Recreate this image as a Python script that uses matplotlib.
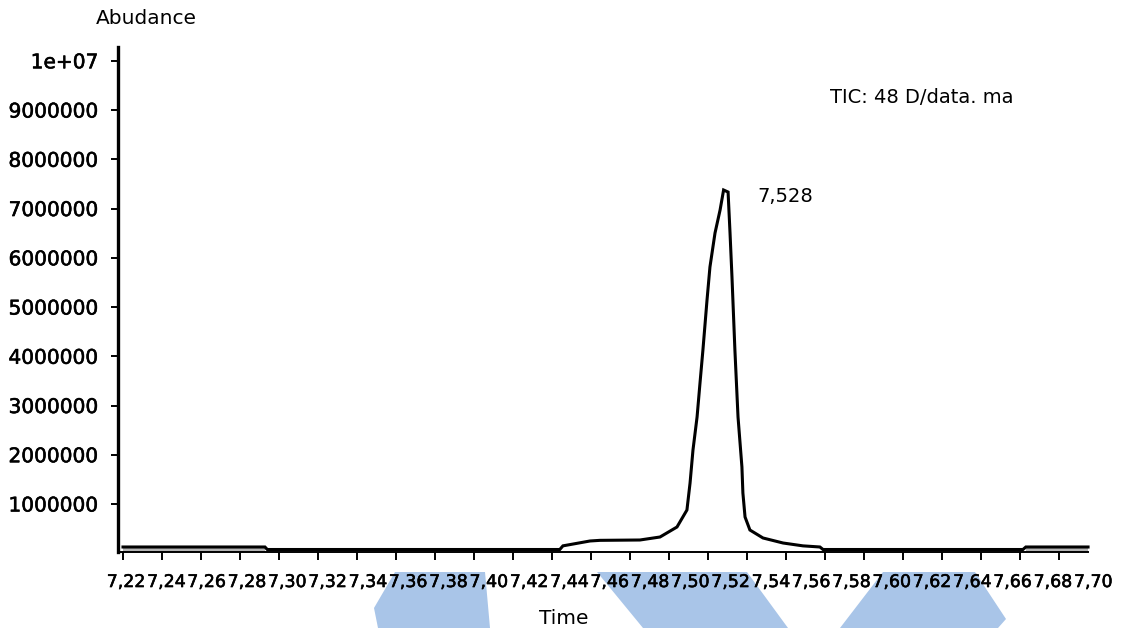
import matplotlib
matplotlib.use("Agg")
import matplotlib.pyplot as plt
import matplotlib.patheffects as pe
from matplotlib.patches import Polygon

# Total ion chromatogram: retention time (min) vs abundance
time = [7.2200, 7.2928, 7.2940, 7.4440, 7.4456, 7.4595, 7.4646, 7.4851,
        7.4954, 7.5041, 7.5092, 7.5108, 7.5123, 7.5144, 7.5159, 7.5174,
        7.5195, 7.5210, 7.5236, 7.5262, 7.5280, 7.5303, 7.5313, 7.5323,
        7.5338, 7.5354, 7.5374, 7.5379, 7.5390, 7.5415, 7.5482, 7.5585,
        7.5687, 7.5774, 7.5790, 7.6815, 7.6830, 7.7149]
abundance = [127000, 127000, 76000, 76000, 150000, 249000, 262000, 269000,
             330000, 533000, 878000, 1426000, 2096000, 2767000, 3457000, 4127000,
             5142000, 5812000, 6503000, 6970000, 7376000, 7335000, 6503000, 5609000,
             4127000, 2767000, 1752000, 1223000, 736000, 472000, 310000, 208000,
             150000, 127000, 76000, 76000, 127000, 127000]

peak_time = 7.528
peak_abundance = 7376000
peak_label = "7,528"

x_ticks = [7.22, 7.24, 7.26, 7.28, 7.30, 7.32, 7.34, 7.36, 7.38, 7.40, 7.42, 7.44,
           7.46, 7.48, 7.50, 7.52, 7.54, 7.56, 7.58, 7.60, 7.62, 7.64, 7.66, 7.68, 7.70]
x_tick_labels = ["7,22", "7,24", "7,26", "7,28", "7,30", "7,32", "7,34", "7,36",
                 "7,38", "7,40", "7,42", "7,44", "7,46", "7,48", "7,50", "7,52",
                 "7,54", "7,56", "7,58", "7,60", "7,62", "7,64", "7,66", "7,68", "7,70"]
y_ticks = [1000000, 2000000, 3000000, 4000000, 5000000, 6000000, 7000000,
           8000000, 9000000, 10000000]
y_tick_labels = ["1000000", "2000000", "3000000", "4000000", "5000000",
                 "6000000", "7000000", "8000000", "9000000", "1e+07"]

W, H = 1122, 628
fig = plt.figure(figsize=(W / 100, H / 100), dpi=100)
fig.patch.set_facecolor("white")

# axes box runs a little past the drawn axis line so the last label fits
left, right, top, bottom = 118, 1118, 47, 551.5
ax = fig.add_axes([left / W, 1 - bottom / H, (right - left) / W, (bottom - top) / H])

x_min, x_axis_end = 7.21744, 7.71487
ax.set_xlim(x_min, x_min + (right - left) / 1950)
ax.set_ylim(35500, 10280000)

# baseline shading between trace and axis at the flat ends
flat = [(t <= 7.2928) or (t >= 7.6830) for t in time]
ax.fill_between(time, abundance, 35500, where=flat, color="#b4b4b4", lw=0)
ax.plot(time, abundance, color="black", lw=2.2, solid_joinstyle="miter")

ax.annotate(peak_label, xy=(peak_time, peak_abundance), xytext=(24, -5),
            textcoords="offset points", ha="left", va="center", fontsize=14)
ax.text(0.712, 0.899, "TIC: 48 D/data. ma", transform=ax.transAxes,
        ha="left", va="center", fontsize=14)

for s in ("top", "right"):
    ax.spines[s].set_visible(False)
ax.spines["left"].set_linewidth(2.4)
ax.spines["bottom"].set_linewidth(1.4)
ax.spines["bottom"].set_bounds(x_min, x_axis_end)

bold_fx = [pe.withStroke(linewidth=0.4, foreground="black")]

ax.set_yticks(y_ticks, labels=y_tick_labels)
ax.tick_params(axis="y", length=5, width=1.4, pad=9, labelsize=14.5, direction="out")
for lab in ax.get_yticklabels():
    lab.set_path_effects(bold_fx)

ax.set_xticks(x_ticks)
ax.tick_params(axis="x", length=5.8, width=1.4, direction="out", labelbottom=False)

# tick labels set on a slightly wider spacing than the tick marks
def fwd(x):
    return 7.22 + ((x - 7.22) * 1950 - 3) / 2015

def inv(v):
    return 7.22 + ((v - 7.22) * 2015 + 3) / 1950

sec = ax.secondary_xaxis("bottom", functions=(fwd, inv))
sec.set_xticks(x_ticks, labels=x_tick_labels)
sec.tick_params(length=0, pad=15.5, labelsize=12.5)
sec.spines["bottom"].set_visible(False)
for lab in sec.get_xticklabels():
    lab.set_path_effects(bold_fx)

fig.text(146 / W, 1 - 18 / H, "Abudance", ha="center", va="center", fontsize=14.5)
fig.text(564 / W, 1 - 619 / H, "Time", ha="center", va="center", fontsize=14.5)

# light blue shapes along the bottom edge
shapes = [
    [(395, 572), (485, 572), (490, 628), (378, 628), (374, 608)],
    [(597, 572), (747, 572), (788, 628), (643, 628)],
    [(883, 572), (975, 572), (1006, 619), (998, 628), (840, 628)],
]
for pts in shapes:
    poly = Polygon([(x / W, 1 - y / H) for x, y in pts], closed=True,
                   transform=fig.transFigure, facecolor="#a9c5e8", edgecolor="none",
                   zorder=-1)
    fig.patches.append(poly)

fig.savefig("out.png", dpi=100)
